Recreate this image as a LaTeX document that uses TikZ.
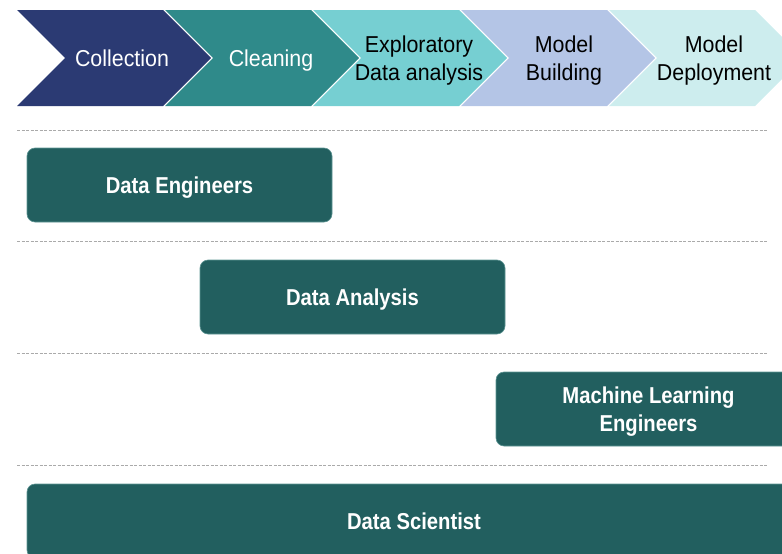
\documentclass[tikz,border=0pt]{standalone}
\usepackage{fontspec}
\setmainfont{Liberation Sans}
\newfontfamily\chevfont[FakeStretch=0.93]{Liberation Sans}
\newfontfamily\boxfont[FakeStretch=0.88]{Liberation Sans}
\definecolor{cA}{HTML}{2B3A73}
\definecolor{cB}{HTML}{2F8A8A}
\definecolor{cC}{HTML}{76CFD2}
\definecolor{cD}{HTML}{B4C5E6}
\definecolor{cE}{HTML}{CDEDEE}
\definecolor{boxc}{HTML}{225F5F}
\definecolor{boxline}{HTML}{5E9593}
\definecolor{dashc}{HTML}{AAAAAA}
\tikzset{
  chevtext/.style={align=center, font=\chevfont\fontsize{23}{28}\selectfont, inner sep=0pt, text depth=0pt},
  rolebox/.style={fill=boxc, draw=boxline, line width=0.6pt, rounded corners=8pt,
    minimum height=74pt, inner sep=0pt, text=white, align=center, text depth=0pt,
    font=\boxfont\bfseries\fontsize{23}{28}\selectfont},
  sepline/.style={draw=dashc, line width=0.8pt, dash pattern=on 3pt off 1.5pt}
}
\begin{document}
\begin{tikzpicture}[x=1pt,y=1pt]
\useasboundingbox (0,0) rectangle (782,-554);
\clip (0,0) rectangle (782,-554);
% chevrons
\foreach \i/\col in {0/cA,1/cB,2/cC,3/cD,4/cE}{
  \pgfmathsetmacro{\xo}{17+148*\i}
  \fill[\col] (\xo,-10) -- ++(146,0) -- ++(48,-48) -- ++(-48,-48) -- ++(-146,0) -- ++(48,48) -- cycle;
}
\node[chevtext, text=white] (collection) at (122,-58) {Collection};
\node[chevtext, text=white] (cleaning) at (271,-58) {Cleaning};
\node[chevtext, text=black] (eda) at (419,-58) {Exploratory\\Data analysis};
\node[chevtext, text=black] (building) at (564,-58) {Model\\Building};
\node[chevtext, text=black] (deploy) at (714,-58) {Model\\Deployment};
% separators
\coordinate (s1a) at (17,-130); \coordinate (s1b) at (767,-130);
\coordinate (s2a) at (17,-241); \coordinate (s2b) at (767,-241);
\coordinate (s3a) at (17,-353); \coordinate (s3b) at (767,-353);
\coordinate (s4a) at (17,-465); \coordinate (s4b) at (767,-465);
\draw[sepline] (s1a) -- (s1b);
\draw[sepline] (s2a) -- (s2b);
\draw[sepline] (s3a) -- (s3b);
\draw[sepline] (s4a) -- (s4b);
% role boxes
\node[rolebox, minimum width=305pt] (eng) at (179.5,-185) {Data Engineers};
\node[rolebox, minimum width=305pt] (ana) at (352.5,-297) {Data Analysis};
\node[rolebox, minimum width=305pt] (mle) at (648.5,-409) {Machine Learning\\Engineers};
\node[rolebox, minimum width=774pt] (sci) at (414,-521) {Data Scientist};
\end{tikzpicture}
\end{document}
